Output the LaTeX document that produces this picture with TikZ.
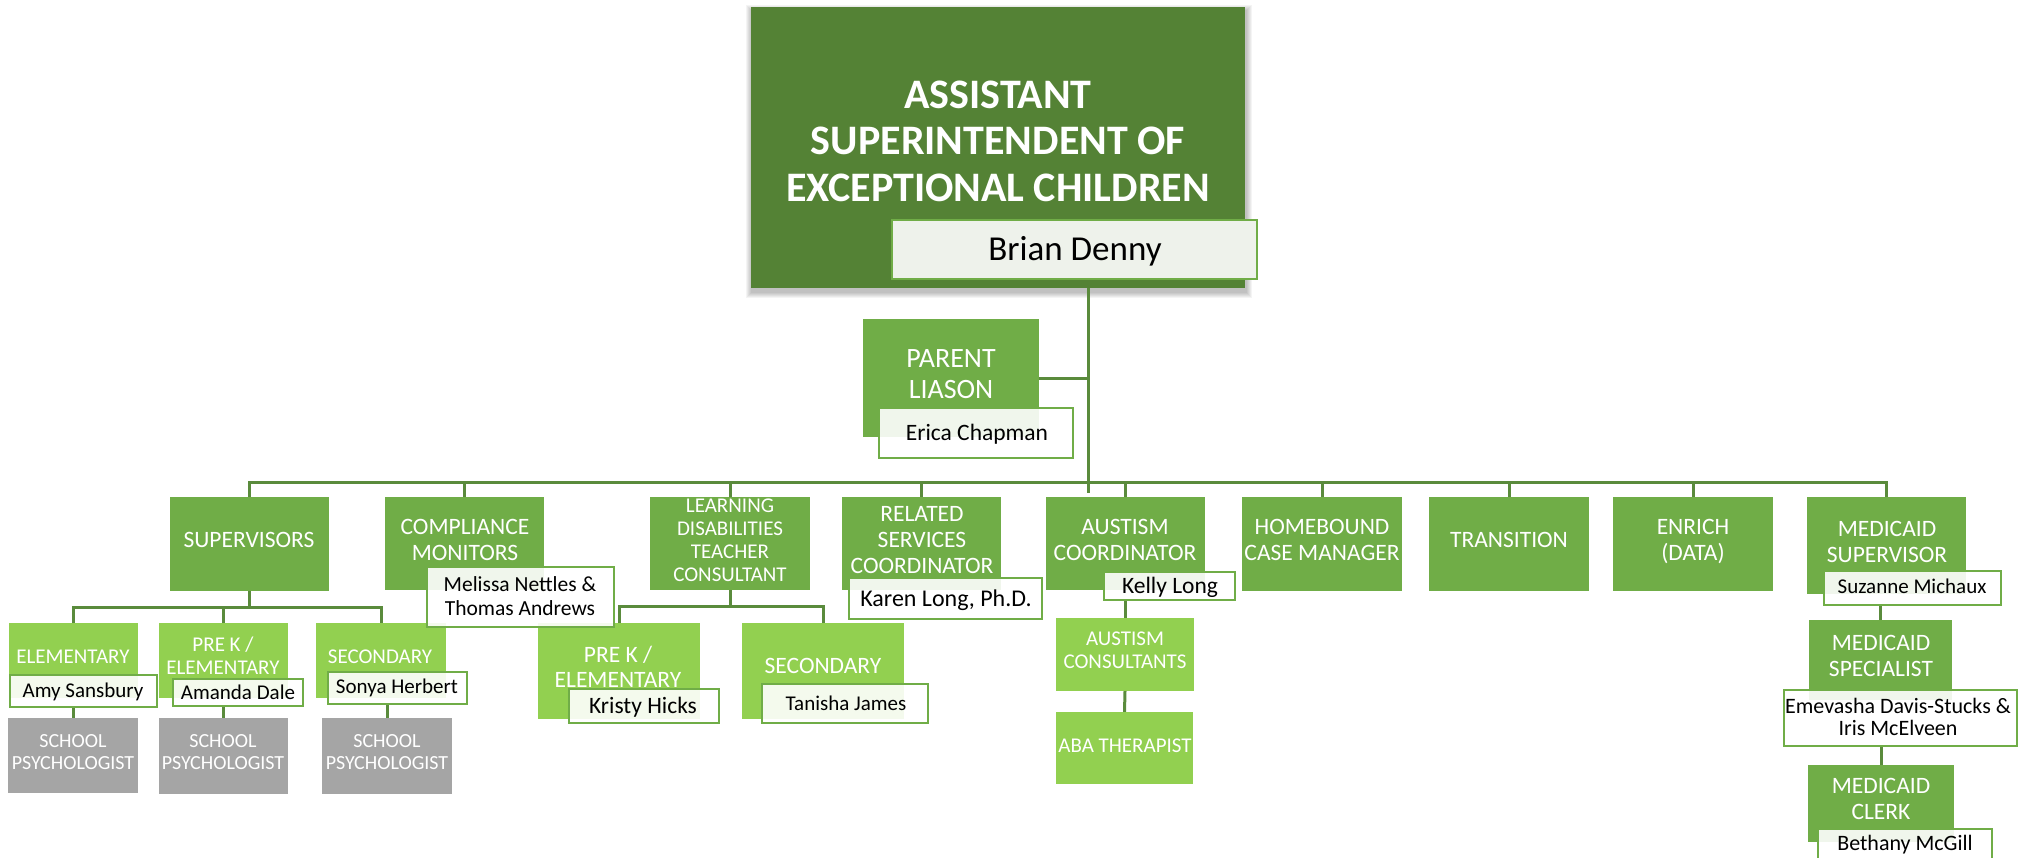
\documentclass[tikz,border=0pt]{standalone}
\usepackage{fontspec}
\setmainfont{Carlito}
\definecolor{dg}{HTML}{548235}
\definecolor{mg}{HTML}{70AD47}
\definecolor{lg}{HTML}{92D050}
\definecolor{gy}{HTML}{A5A5A5}
\definecolor{cg}{HTML}{5A8B3C}
\definecolor{nmfill}{HTML}{EEF2EB}
\pgfdeclarelayer{bg}
\pgfsetlayers{bg,main}
\newcommand{\bx}[6]{\node[#1, anchor=north west, minimum width={(#5-#3)*1pt}, minimum height={(#6-#4)*1pt}] (#2) at (#3,#4) {};}
\newcommand{\ml}[1]{\begin{tabular}[t]{@{}c@{}}#1\end{tabular}}
\tikzset{
  box/.style={fill=#1, draw=none, inner sep=0pt, outer sep=0pt},
  nm/.style={draw=mg, line width=2.5pt, fill=white, fill opacity=0.9, inner sep=0pt, outer sep=0pt},
  conn/.style={draw=cg, line width=3pt},
  wt/.style 2 args={text=white, inner sep=0pt, anchor=base, font=\fontsize{#1}{#2}\selectfont},
  bk/.style 2 args={text=black, inner sep=0pt, anchor=base, font=\fontsize{#1}{#2}\selectfont},
}
\begin{document}
\begin{tikzpicture}[x=1pt,y=-1pt]
\useasboundingbox (0,0) rectangle (2025,857);
\clip (0,0) rectangle (2025,857);
% ---------- boxes ----------
\bx{box=dg}{top}{751}{7}{1245}{288}
\bx{box=mg}{pl}{863}{319}{1039}{437}
\bx{box=mg}{sup}{170}{497}{329}{591}
\bx{box=mg}{cm}{385}{497}{544}{590}
\bx{box=mg}{ld}{650}{497}{810}{590}
\bx{box=mg}{rs}{842}{497}{1001}{590}
\bx{box=mg}{ac}{1046}{497}{1205}{590}
\bx{box=mg}{hb}{1242}{497}{1402}{591}
\bx{box=mg}{tr}{1429}{497}{1589}{591}
\bx{box=mg}{en}{1613}{497}{1773}{591}
\bx{box=mg}{ms}{1807}{497}{1966}{594}
\bx{box=lg}{elem}{9}{623}{138}{698}
\bx{box=lg}{prek}{159}{623}{288}{698}
\bx{box=lg}{sec}{316}{623}{446}{698}
\bx{box=gy}{sp1}{8}{718}{138}{793}
\bx{box=gy}{sp2}{159}{718}{288}{794}
\bx{box=gy}{sp3}{322}{718}{452}{794}
\bx{box=lg}{ldprek}{538}{623}{700}{719}
\bx{box=lg}{ldsec}{742}{623}{904}{719}
\bx{box=lg}{acc}{1056}{618}{1194}{691}
\bx{box=lg}{aba}{1056}{712}{1193}{784}
\bx{box=mg}{mspec}{1809}{620}{1952}{700}
\bx{box=mg}{mclerk}{1808}{765}{1954}{842}
% ---------- name boxes ----------
\bx{nm, fill=nmfill, fill opacity=1}{brian}{892}{220}{1257}{279}
\bx{nm}{erica}{879}{408}{1073}{458}
\bx{nm}{mel}{427}{567}{614}{627}
\bx{nm}{karen}{849}{578}{1042}{619}
\bx{nm}{kelly}{1104}{572}{1235}{600}
\bx{nm}{suz}{1824}{571}{2001}{605}
\bx{nm}{amy}{10}{675}{157}{707}
\bx{nm}{amanda}{173}{679}{303}{706}
\bx{nm}{sonya}{328}{672}{467}{704}
\bx{nm}{kristy}{569}{689}{719}{723}
\bx{nm}{tanisha}{762}{684}{928}{723}
\bx{nm}{emev}{1784}{690}{2017}{746}
\bx{nm}{beth}{1818}{829}{1992}{875}
% ---------- connectors and shadow (behind) ----------
\begin{pgfonlayer}{bg}
\fill[white] (0,0) rectangle (2025,857);
\foreach \i in {1,...,6} {
  \fill[black, opacity=0.045] (751+1-\i,7+4-\i) rectangle (1245+1+\i,288+4+\i);
}
\coordinate (bus) at (0,482);
\coordinate (trunk) at (1088,493);
\draw[conn] (trunk |- brian.south) -- (trunk);
\draw[conn] (pl.east) -- (pl.east -| trunk);
\draw[conn] (sup.north) -- (sup.north |- bus) -- (ms.north |- bus) -- (ms.north);
\foreach \n in {cm,ld,rs,ac,hb,tr,en} \draw[conn] (\n.north) -- (\n.north |- bus);
\coordinate (sb) at (0,607);
\draw[conn] (sup.south) -- (sup.south |- sb);
\draw[conn] (elem.north) -- (elem.north |- sb) -- (sec.north |- sb) -- (sec.north);
\draw[conn] (prek.north) -- (prek.north |- sb);
\draw[conn] (amy.south -| sp1.north) -- (sp1.north);
\draw[conn] (amanda.south -| sp2.north) -- (sp2.north);
\draw[conn] (sonya.south -| sp3.north) -- (sp3.north);
\coordinate (lb) at (0,606);
\draw[conn] (ld.south) -- (ld.south |- lb);
\draw[conn] (ldprek.north) -- (ldprek.north |- lb) -- (ldsec.north |- lb) -- (ldsec.north);
\draw[conn] (kelly.south -| acc.north) -- (acc.north);
\draw[conn] (acc.south) -- (aba.north);
\draw[conn] (suz.south -| mspec.north) -- (mspec.north);
\draw[conn] (emev.south -| mclerk.north) -- (mclerk.north);
\end{pgfonlayer}
% ---------- texts ----------
\node[wt={42}{46.5}, font=\fontsize{42}{46.5}\selectfont\bfseries] (top-t) at (998,108) {\ml{ASSISTANT\\SUPERINTENDENT OF\\EXCEPTIONAL CHILDREN}};
\node[bk={35}{40}] (brian-t) at (1075,260) {Brian Denny};
\node[wt={28}{31}] (pl-t) at (951,367) {\ml{PARENT\\LIASON}};
\node[bk={23.5}{26}] (erica-t) at (977,440) {Erica Chapman};
\node[wt={23.5}{26}] (sup-t) at (249,547) {SUPERVISORS};
\node[wt={23.5}{26}] (cm-t) at (465,534) {\ml{COMPLIANCE\\MONITORS}};
\node[bk={21.5}{24}] (mel-t) at (520,591) {\ml{Melissa Nettles \&\\Thomas Andrews}};
\node[wt={21}{23.3}] (ld-t) at (730,512) {\ml{LEARNING\\DISABILITIES\\TEACHER\\CONSULTANT}};
\node[wt={23.5}{26}] (rs-t) at (922,521) {\ml{RELATED\\SERVICES\\COORDINATOR}};
\node[bk={24}{26}] (karen-t) at (946,606) {Karen Long, Ph.D.};
\node[wt={23.5}{26}] (ac-t) at (1125,534) {\ml{AUSTISM\\COORDINATOR}};
\node[bk={23.5}{26}] (kelly-t) at (1170,593) {Kelly Long};
\node[wt={23.5}{26}] (hb-t) at (1322,534) {\ml{HOMEBOUND\\CASE MANAGER}};
\node[wt={23.5}{26}] (tr-t) at (1509,547) {TRANSITION};
\node[wt={23.5}{26}] (en-t) at (1693,534) {\ml{ENRICH\\(DATA)}};
\node[wt={23.5}{26}] (ms-t) at (1887,536) {\ml{MEDICAID\\SUPERVISOR}};
\node[bk={21}{24}] (suz-t) at (1912,593) {Suzanne Michaux};
\node[wt={21}{23}] (elem-t) at (73,663) {ELEMENTARY};
\node[bk={21}{24}] (amy-t) at (83,697) {Amy Sansbury};
\node[wt={21}{23}] (prek-t) at (223,651) {\ml{PRE K /\\ELEMENTARY}};
\node[bk={21}{24}] (amanda-t) at (238,699) {Amanda Dale};
\node[wt={21}{23}] (sec-t) at (380,663) {SECONDARY};
\node[bk={21}{24}] (sonya-t) at (397,693) {Sonya Herbert};
\node[wt={20}{22}] (sp1-t) at (73,747) {\ml{SCHOOL\\PSYCHOLOGIST}};
\node[wt={20}{22}] (sp2-t) at (223,747) {\ml{SCHOOL\\PSYCHOLOGIST}};
\node[wt={20}{22}] (sp3-t) at (387,747) {\ml{SCHOOL\\PSYCHOLOGIST}};
\node[wt={23.5}{25}] (ldprek-t) at (618,662) {\ml{PRE K /\\ELEMENTARY}};
\node[bk={23.5}{26}] (kristy-t) at (643,713) {Kristy Hicks};
\node[wt={23.5}{26}] (ldsec-t) at (823,673) {SECONDARY};
\node[bk={21}{24}] (tanisha-t) at (846,710) {Tanisha James};
\node[wt={21}{23}] (acc-t) at (1125,645) {\ml{AUSTISM\\CONSULTANTS}};
\node[wt={21}{23}] (aba-t) at (1125,752) {ABA THERAPIST};
\node[wt={23.5}{26}] (mspec-t) at (1881,650) {\ml{MEDICAID\\SPECIALIST}};
\node[bk={22}{22}] (emev-t) at (1898,713) {\ml{Emevasha Davis-Stucks \&\\Iris McElveen}};
\node[wt={23.5}{26}] (mclerk-t) at (1881,793) {\ml{MEDICAID\\CLERK}};
\node[bk={22}{24}] (beth-t) at (1905,850) {Bethany McGill};
\end{tikzpicture}
\end{document}
